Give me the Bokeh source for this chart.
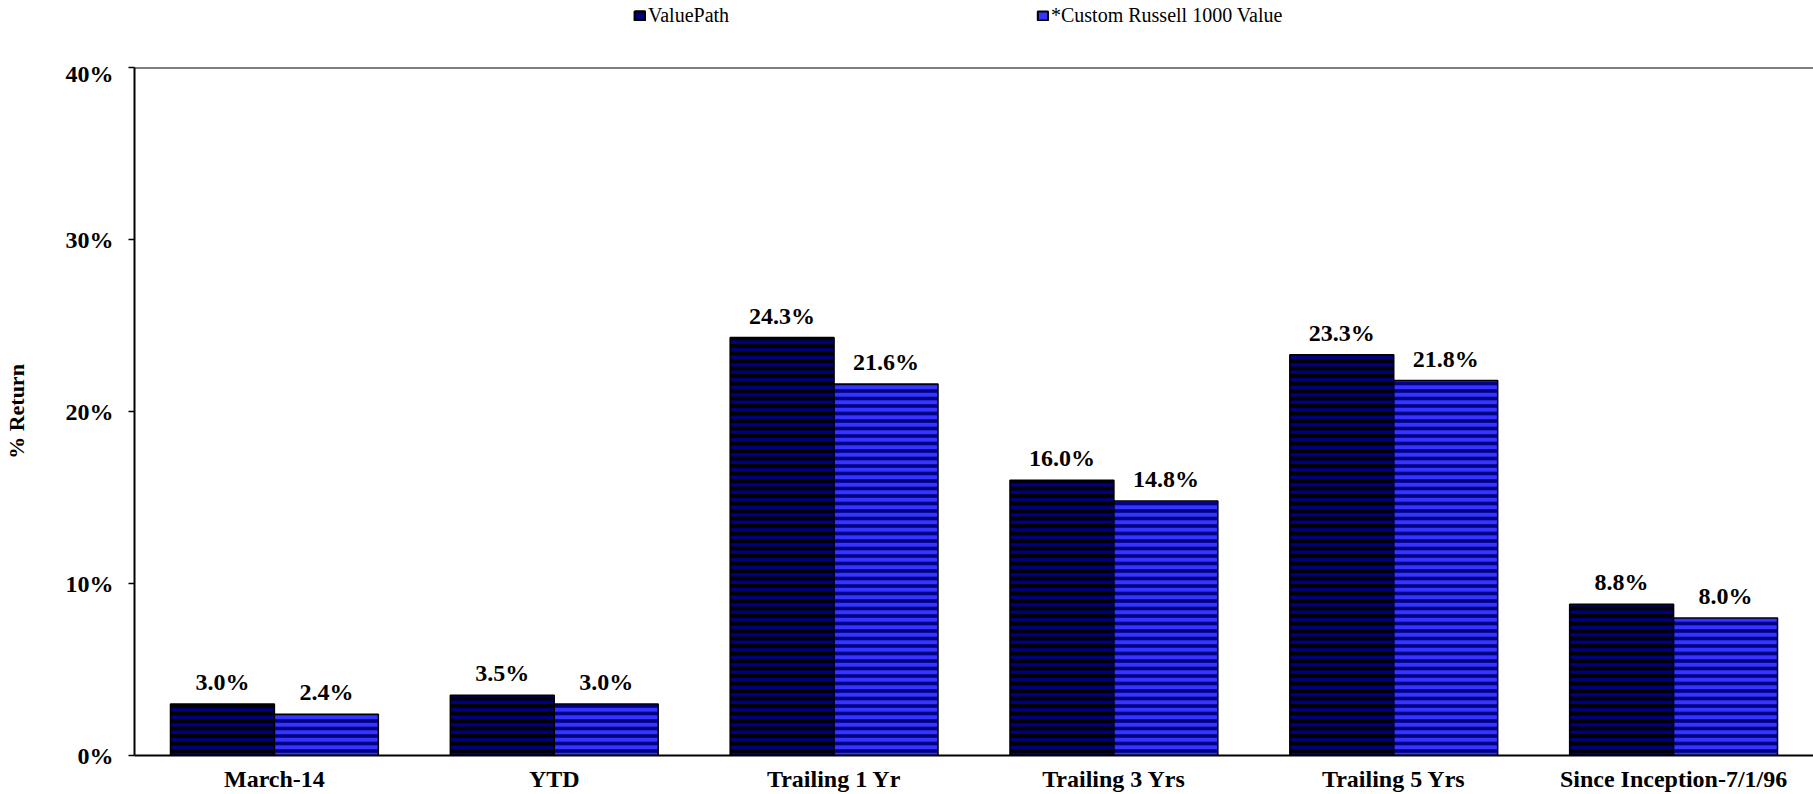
from bokeh.plotting import figure
from bokeh.models import (FactorRange, Range1d, FixedTicker, Legend, LegendItem,
                          ColumnDataSource, Span)
from bokeh.layouts import column
from bokeh.transform import dodge
from bokeh.embed import file_html
from bokeh.resources import INLINE
from bokeh.core.properties import value

categories = ["March-14", "YTD", "Trailing 1 Yr", "Trailing 3 Yrs", "Trailing 5 Yrs", "Since Inception-7/1/96"]
series_names = ["ValuePath", "*Custom Russell 1000 Value"]
valuepath = [3.0, 3.5, 24.3, 16.0, 23.3, 8.8]
russell = [2.4, 3.0, 21.6, 14.8, 21.8, 8.0]
y_ticks = [0, 10, 20, 30, 40]
y_tick_labels = ["0%", "10%", "20%", "30%", "40%"]
y_axis_title = "% Return"

FONT = "Liberation Serif"
W = 1813
LEG_H = 60

src = ColumnDataSource(dict(
    cat=categories, vp=valuepath, ru=russell,
    vp_lbl=[f"{v:.1f}%" for v in valuepath],
    ru_lbl=[f"{v:.1f}%" for v in russell],
))

# ---- legend strip (top) ----
lf = figure(width=W, height=LEG_H, x_range=(0, 1), y_range=(0, 1),
            output_backend="svg", toolbar_location=None,
            x_axis_location=None, y_axis_location=None, min_border=0)
lf.xgrid.grid_line_color = None
lf.ygrid.grid_line_color = None
lf.outline_line_color = None
# legend proxies, kept outside the visible range of this strip
proxy = ColumnDataSource(dict(x=[-5.0], y=[-5.0]))
g1 = lf.rect(x="x", y="y", width=0.01, height=0.01, source=proxy,
             fill_color="#000080", line_color="black", line_width=2.5)
g2 = lf.rect(x="x", y="y", width=0.01, height=0.01, source=proxy,
             fill_color="#3535FF", line_color="black", line_width=2)
legend = Legend(items=[LegendItem(label=series_names[0], renderers=[g1]),
                       LegendItem(label=series_names[1], renderers=[g2])],
                orientation="horizontal", location=(499, 33),
                padding=0, margin=0, border_line_color=None, background_fill_alpha=0,
                glyph_width=13, glyph_height=11, label_standoff=2, label_width=300,
                spacing=88, label_text_font=FONT, label_text_font_size="20px",
                label_text_color="black")
lf.add_layout(legend)

# ---- main chart ----
p = figure(width=W, height=794 - LEG_H,
           x_range=FactorRange(factors=categories, range_padding=0),
           y_range=Range1d(0, 40),
           output_backend="svg", toolbar_location=None,
           min_border_left=133, min_border_top=67 - LEG_H,
           min_border_right=0, min_border_bottom=0)

BW = 0.3714
OFF = 0.1857

p.vbar(x=dodge("cat", -OFF, range=p.x_range), top="vp", width=BW, source=src,
       fill_color="black", hatch_pattern="horizontal_line", hatch_color="#000080",
       hatch_scale=7.5, hatch_weight=3.5, line_color="black", line_width=1.5)
p.vbar(x=dodge("cat", OFF, range=p.x_range), top="ru", width=BW, source=src,
       fill_color="#000080", hatch_pattern="horizontal_line", hatch_color="#3535FF",
       hatch_scale=7.5, hatch_weight=4, line_color="black", line_width=1.5)

for col, lbl, off in (("vp", "vp_lbl", -OFF), ("ru", "ru_lbl", OFF)):
    p.text(x=dodge("cat", off, range=p.x_range), y=col, text=lbl, source=src,
           text_align="center", text_baseline="middle", y_offset=-22,
           text_font=value(FONT), text_font_style="bold", text_font_size="24px",
           text_color="black")

p.xgrid.grid_line_color = None
p.ygrid.grid_line_color = None
p.outline_line_color = None
p.add_layout(Span(location=y_ticks[-1], dimension="width", line_color="black", line_width=2))

p.yaxis.ticker = FixedTicker(ticks=y_ticks)
p.yaxis.major_label_overrides = {t: l for t, l in zip(y_ticks, y_tick_labels)}
p.yaxis.minor_tick_line_color = None
p.yaxis.major_tick_in = 0
p.yaxis.major_tick_out = 6
p.yaxis.major_tick_line_width = 1.5
p.yaxis.major_tick_line_color = "black"
p.yaxis.axis_line_width = 2
p.yaxis.axis_line_color = "black"
p.yaxis.major_label_standoff = 15
p.yaxis.major_label_text_font = FONT
p.yaxis.major_label_text_font_style = "bold"
p.yaxis.major_label_text_font_size = "24px"
p.yaxis.major_label_text_color = "black"
p.yaxis.axis_label = y_axis_title
p.yaxis.axis_label_text_font = FONT
p.yaxis.axis_label_text_font_style = "bold"
p.yaxis.axis_label_text_font_size = "22px"
p.yaxis.axis_label_text_color = "black"
p.yaxis.axis_label_standoff = 34

xb = p.below[0]
xb.major_tick_line_color = None
xb.minor_tick_line_color = None
xb.axis_line_width = 2
xb.axis_line_color = "black"
xb.major_label_standoff = 4
xb.major_label_text_font = FONT
xb.major_label_text_font_style = "bold"
xb.major_label_text_font_size = "24px"
xb.major_label_text_color = "black"

layout = column(lf, p, spacing=0)
open("out.html", "w").write(file_html(layout, INLINE))
